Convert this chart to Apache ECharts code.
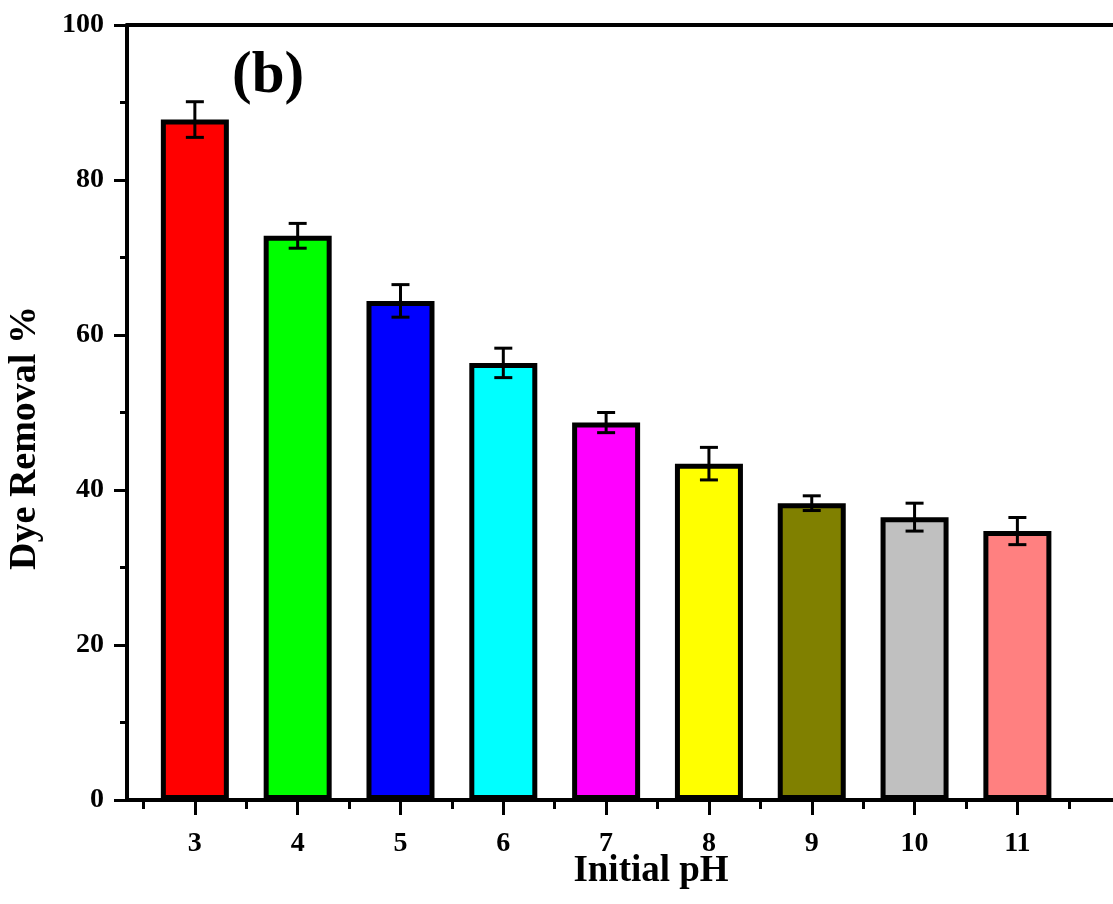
<!DOCTYPE html>
<html>
<head>
<meta charset="utf-8">
<script src="https://cdn.jsdelivr.net/npm/echarts@6/dist/echarts.min.js"></script>
<style>
html,body{margin:0;padding:0;background:#fff;}
#chart{width:1113px;height:904px;}
</style>
</head>
<body>
<div id="chart"></div>
<script>
// ---- data ----
const phValues = [3, 4, 5, 6, 7, 8, 9, 10, 11];
const removal = [87.8, 72.8, 64.4, 56.4, 48.7, 43.4, 38.3, 36.5, 34.7];
const errors = [2.3, 1.6, 2.1, 1.9, 1.3, 2.1, 0.95, 1.8, 1.75];
const xMajorTicks = [3, 4, 5, 6, 7, 8, 9, 10, 11];
const xMinorTicks = [2.5, 3.5, 4.5, 5.5, 6.5, 7.5, 8.5, 9.5, 10.5, 11.5];
const yTicks = [0, 20, 40, 60, 80, 100];
const barColors = ['#FF0000', '#00FF00', '#0000FF', '#00FFFF', '#FF00FF', '#FFFF00', '#808000', '#C0C0C0', '#FF8080'];
const xTitle = 'Initial pH';
const yTitle = 'Dye Removal %';
const panelLabel = '(b)';

const FONT = '"Liberation Serif", "Times New Roman", serif';

const barData = phValues.map((x, i) => ({
  value: [x, removal[i]],
  itemStyle: { color: barColors[i] }
}));
const errData = phValues.map((x, i) => [x, removal[i], errors[i]]);

const chart = echarts.init(document.getElementById('chart'), null, { renderer: 'canvas' });

const xCommon = { type: 'value', min: 2.34, max: 11.93, splitLine: { show: false } };

chart.setOption({
  animation: false,
  backgroundColor: '#ffffff',
  grid: { left: 127, right: 0, top: 25, bottom: 104, containLabel: false },
  xAxis: [
    Object.assign({}, xCommon, {
      position: 'bottom',
      axisLine: { show: true, onZero: false, lineStyle: { color: '#000', width: 4 } },
      axisTick: { show: true, customValues: xMajorTicks, length: 15, lineStyle: { color: '#000', width: 3 } },
      axisLabel: { show: true, customValues: xMajorTicks, margin: 30, fontFamily: FONT, fontWeight: 'bold', fontSize: 28, color: '#000' }
    }),
    Object.assign({}, xCommon, {
      position: 'bottom',
      axisLine: { show: false, onZero: false },
      axisTick: { show: true, customValues: xMinorTicks, length: 9, lineStyle: { color: '#000', width: 3 } },
      axisLabel: { show: false }
    }),
    Object.assign({}, xCommon, {
      position: 'top',
      axisLine: { show: true, onZero: false, lineStyle: { color: '#000', width: 4 } },
      axisTick: { show: false },
      axisLabel: { show: false }
    })
  ],
  yAxis: {
    type: 'value',
    min: yTicks[0],
    max: yTicks[yTicks.length - 1],
    interval: 20,
    splitLine: { show: false },
    axisLine: { show: true, onZero: false, lineStyle: { color: '#000', width: 4 } },
    axisTick: { show: true, length: 13, lineStyle: { color: '#000', width: 3 } },
    minorTick: { show: true, splitNumber: 2, length: 7, lineStyle: { color: '#000', width: 3 } },
    axisLabel: { margin: 23, fontFamily: FONT, fontWeight: 'bold', fontSize: 28, color: '#000' }
  },
  series: [
    {
      type: 'bar',
      xAxisIndex: 0,
      yAxisIndex: 0,
      data: barData,
      barWidth: 68,
      itemStyle: { borderColor: '#000', borderWidth: 5 }
    },
    {
      type: 'custom',
      xAxisIndex: 0,
      yAxisIndex: 0,
      data: errData,
      encode: { x: 0, y: 1 },
      z: 10,
      renderItem: function (params, api) {
        const x = api.value(0), y = api.value(1), e = api.value(2);
        const top = api.coord([x, y + e]);
        const bot = api.coord([x, y - e]);
        const hw = 9;
        const style = { stroke: '#000', lineWidth: 3 };
        return {
          type: 'group',
          children: [
            { type: 'line', shape: { x1: top[0], y1: top[1], x2: bot[0], y2: bot[1] }, style: style },
            { type: 'line', shape: { x1: top[0] - hw, y1: top[1], x2: top[0] + hw, y2: top[1] }, style: style },
            { type: 'line', shape: { x1: bot[0] - hw, y1: bot[1], x2: bot[0] + hw, y2: bot[1] }, style: style }
          ]
        };
      }
    }
  ],
  graphic: [
    {
      type: 'text',
      left: 232,
      top: 47,
      style: { text: panelLabel, fontFamily: FONT, fontWeight: 'bold', fontSize: 59, fill: '#000' }
    },
    {
      type: 'text',
      x: 651,
      y: 871,
      style: { text: xTitle, fontFamily: FONT, fontWeight: 'bold', fontSize: 37, fill: '#000', align: 'center', verticalAlign: 'middle' }
    },
    {
      type: 'text',
      x: 25,
      y: 438,
      rotation: Math.PI / 2,
      style: { text: yTitle, fontFamily: FONT, fontWeight: 'bold', fontSize: 38, fill: '#000', align: 'center', verticalAlign: 'middle' }
    }
  ]
});
</script>
</body>
</html>
